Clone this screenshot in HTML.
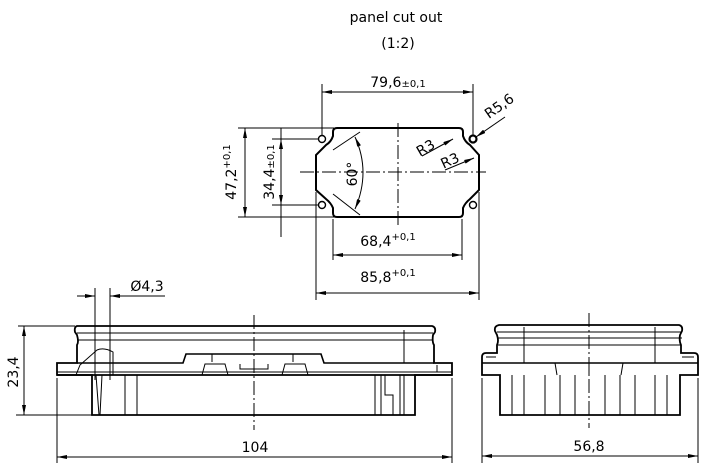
<!DOCTYPE html>
<html><head><meta charset="utf-8"><style>
html,body{margin:0;padding:0;background:#fff;}
svg{display:block;}
text{font-family:"DejaVu Sans","Liberation Sans",sans-serif;fill:#000;}
</style></head><body>
<svg width="711" height="474" viewBox="0 0 711 474" xmlns="http://www.w3.org/2000/svg">
<defs>
<marker id="a" viewBox="0 0 10 4" refX="10" refY="2" markerWidth="10" markerHeight="4" orient="auto-start-reverse" markerUnits="userSpaceOnUse"><path d="M0,0L10,2L0,4z" fill="#000"/></marker>
</defs>
<text x="396" y="22" font-size="14" text-anchor="middle">panel cut out</text>
<text x="398" y="48" font-size="14" text-anchor="middle">(1:2)</text>

<!-- cutout -->
<g fill="none" stroke="#000">
<path stroke-width="2" d="M339,128 L459,128 Q463,128 463,132 L463,136 Q465,142 470,145 L479,155 L479,190 L470,199 Q465,203 463,208 L463,213 Q463,217 459,217 L337,217 Q333,217 333,213 L333,208 Q331,203 326,199 L316,190 L316,155 L326,145 Q331,142 333,136 L333,132 Q333,128 337,128 Z"/>
<circle cx="322" cy="139" r="3.5" stroke-width="1.4"/>
<circle cx="322" cy="205" r="3.5" stroke-width="1.4"/>
<circle cx="473" cy="139" r="3.5" stroke-width="2.2"/>
<circle cx="473" cy="205" r="3.5" stroke-width="1.4"/>
<g stroke-width="1">
<path d="M300,172H486" stroke-dasharray="14,3,2,3"/>
<path d="M398,123V226" stroke-dasharray="14,3,2,3"/>
<path d="M322,84V135M473,84V135"/>
<path d="M322,92H473" marker-start="url(#a)" marker-end="url(#a)"/>
<path d="M316,192V300M479,192V300"/>
<path d="M316,293H479" marker-start="url(#a)" marker-end="url(#a)"/>
<path d="M333,219V260M462,219V260"/>
<path d="M333,255H462" marker-start="url(#a)" marker-end="url(#a)"/>
<path d="M238,128H334M238,217H334"/>
<path d="M245,128V217" marker-start="url(#a)" marker-end="url(#a)"/>
<path d="M272,139H318M272,205H318"/>
<path d="M281,128V237"/>
<path d="M281,139V205" marker-start="url(#a)" marker-end="url(#a)"/>
<path d="M333,150L360,132M333,194L360,215"/>
<path d="M355,137Q371,172 355,209" marker-start="url(#a)" marker-end="url(#a)"/>
<path d="M422,156L453,139" marker-end="url(#a)"/>
<path d="M445,170L474,158" marker-end="url(#a)"/>
<path d="M476,137L505,117" marker-start="url(#a)"/>
</g>
</g>
<text x="398" y="87" font-size="14" text-anchor="middle">79,6<tspan font-size="10">±0,1</tspan></text>
<text x="388" y="282" font-size="14" text-anchor="middle">85,8<tspan font-size="10" dy="-6">+0,1</tspan></text>
<text x="388" y="246" font-size="14" text-anchor="middle">68,4<tspan font-size="10" dy="-6">+0,1</tspan></text>
<text transform="translate(236,172) rotate(-90)" font-size="14" text-anchor="middle">47,2<tspan font-size="10" dy="-6">+0,1</tspan></text>
<text transform="translate(274,172) rotate(-90)" font-size="14" text-anchor="middle">34,4<tspan font-size="10">±0,1</tspan></text>
<text transform="translate(357,174) rotate(-90)" font-size="14" text-anchor="middle">60°</text>
<text transform="translate(428,152) rotate(-30)" font-size="14" text-anchor="middle">R3</text>
<text transform="translate(452,165) rotate(-25)" font-size="14" text-anchor="middle">R3</text>
<text transform="translate(502,110) rotate(-35)" font-size="14" text-anchor="middle">R5,6</text>

<!-- front view -->
<g fill="none" stroke="#000">
<path stroke-width="1.8" d="M77,326H432Q436,327 435,332L433,335Q432,342 434,345V363H452V375H415V415H92V375H57V363H77V345Q79,342 77,335L75,332Q74,327 77,326Z"/>
<g stroke-width="1">
<path d="M77,333H433M78,340H432"/>
<path d="M77,363H183L186,354H321L324,363H434" stroke-width="1.6"/>
<path d="M57,372H452"/>
<path d="M57,375H452" stroke-width="1.8"/>
<path d="M202,375L205,364H225L228,375M282,375L285,364H305L308,375M240,364V369H268V364"/>
<path d="M212,354V362M293,354V362"/>
<path d="M125,375V415M137,375V415M375,375V415M381,375V415M385,375V395H393V415M400,375V415M404,375V415"/>
<path d="M97,350Q104,347 113,352V375H76L80,365Z"/>
<path d="M404,330V363M437,365V372"/>
<path d="M96,375L99,415M102,375L100,415"/>
<path d="M254,315V430" stroke-dasharray="14,3,2,3"/>
<path d="M95,288V380M110,288V380"/>
<path d="M77,296H95" marker-end="url(#a)"/>
<path d="M110,296H165" marker-start="url(#a)"/>
<path d="M18,326H75M16,415H92"/>
<path d="M24,326V415" marker-start="url(#a)" marker-end="url(#a)"/>
<path d="M57,378V463M452,378V463"/>
<path d="M57,457H452" marker-start="url(#a)" marker-end="url(#a)"/>
</g>
</g>
<text x="147" y="291" font-size="14" text-anchor="middle">Ø4,3</text>
<text transform="translate(18,372) rotate(-90)" font-size="14" text-anchor="middle">23,4</text>
<text x="255" y="452" font-size="14" text-anchor="middle">104</text>

<!-- side view -->
<g fill="none" stroke="#000">
<path stroke-width="1.8" d="M499,325H679Q683,326 682,331L680,335Q679,341 681,345V353H694Q698,353 698,357V375H680V415H500V375H482V357Q482,353 486,353H497V345Q499,341 497,335L495,331Q494,326 499,325Z"/>
<g stroke-width="1">
<path d="M497,332H682M497,338H682M498,345H681"/>
<path d="M482,363H698" stroke-width="1.6"/>
<path d="M486,357H496M682,357H694"/>
<path d="M524,327V363M655,327V363"/>
<path d="M555,363L557,375M623,363L621,375M589,363V375"/>
<path d="M512,375V415M524,375V415M545,375V415M560,375V415M575,375V415M605,375V415M620,375V415M635,375V415M655,375V415M667,375V415"/>
<path d="M589,313V428" stroke-dasharray="14,3,2,3"/>
<path d="M482,378V463M698,378V463"/>
<path d="M482,456H698" marker-start="url(#a)" marker-end="url(#a)"/>
</g>
</g>
<text x="589" y="451" font-size="14" text-anchor="middle">56,8</text>
</svg>
</body></html>
